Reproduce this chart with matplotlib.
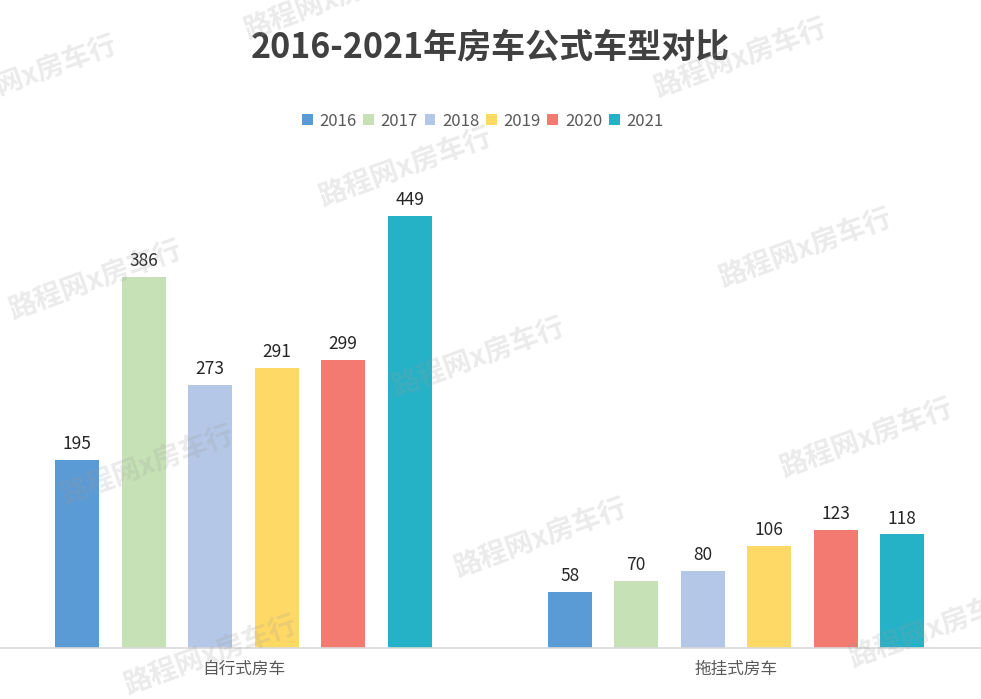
import matplotlib
matplotlib.use("Agg")
import matplotlib.pyplot as plt
import numpy as np
from matplotlib.patches import Patch

plt.rcParams['font.family'] = ['Noto Sans CJK SC', 'DejaVu Sans']

# data
categories = ['自行式房车', '拖挂式房车']
years = ['2016', '2017', '2018', '2019', '2020', '2021']
values = {
    '2016': [195, 58],
    '2017': [386, 70],
    '2018': [273, 80],
    '2019': [291, 106],
    '2020': [299, 123],
    '2021': [449, 118],
}
colors = ['#5B9BD5', '#C7E1B6', '#B4C7E7', '#FFD966', '#F27A70', '#25B2C7']

W, H = 981, 699
fig = plt.figure(figsize=(W / 100, H / 100), dpi=100)
ax = fig.add_axes([0, 51 / H, 1, 481 / H])

x = np.arange(len(categories))
step = 0.135
width = 0.0893
for i, yr in enumerate(years):
    offs = (i - (len(years) - 1) / 2) * step
    bars = ax.bar(x + offs, values[yr], width=width, color=colors[i], zorder=2)
    for b, v in zip(bars, values[yr]):
        ax.annotate(str(v), (b.get_x() + b.get_width() / 2, v),
                    xytext=(0, 5), textcoords='offset points',
                    ha='center', va='bottom', fontsize=12.5, color='#262626')

ax.set_xlim(-243.5 / 492.5, (W - 243.5) / 492.5)
ax.set_ylim(0, 500)
ax.set_xticks(x)
ax.set_xticklabels(categories, fontsize=12, color='#595959')
ax.tick_params(axis='x', length=0, pad=9)
ax.set_yticks([])
for s in ['top', 'left', 'right']:
    ax.spines[s].set_visible(False)
ax.spines['bottom'].set_color('#D9D9D9')
ax.spines['bottom'].set_linewidth(1.2)

fig.text(0.5, 1 - 47 / H, '2016-2021年房车公式车型对比', ha='center', va='center',
         fontsize=24.5, fontweight='bold', color='#404040')

handles = [Patch(facecolor=c, label=y) for c, y in zip(colors, years)]
fig.legend(handles=handles, loc='center', bbox_to_anchor=(0.492, 1 - 121 / H),
           ncol=6, frameon=False, fontsize=12, handlelength=0.65, handleheight=0.65,
           handletextpad=0.4, columnspacing=0.4, labelcolor='#595959')

# watermark
marks = [(30, 75), (330, 0), (405, 167), (95, 280), (740, 58), (805, 248),
         (478, 357), (147, 465), (210, 655), (540, 538), (866, 438), (935, 628)]
for mx, my in marks:
    fig.text(mx / W, 1 - my / H, '路程网x房车行', ha='center', va='center',
             rotation=20, fontsize=20, fontweight='bold', color='#9A9A9A',
             alpha=0.2, zorder=10)

fig.savefig('out.png', dpi=100)
